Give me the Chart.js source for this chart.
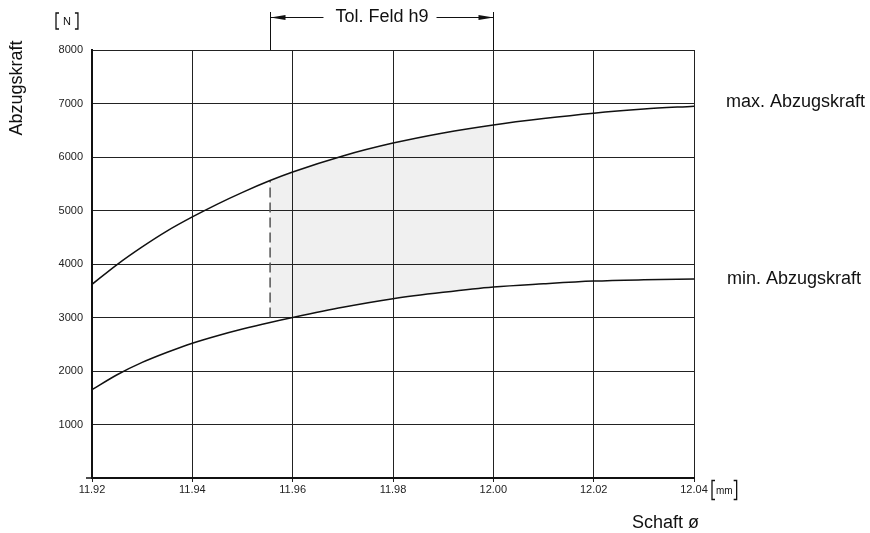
<!DOCTYPE html>
<html><head><meta charset="utf-8">
<script src="https://cdn.jsdelivr.net/npm/chart.js@4/dist/chart.umd.min.js"></script>
<style>html,body{margin:0;padding:0;background:#fff}#wrap{width:870px;height:533px}</style>
</head><body><div id="wrap"><canvas id="c" width="870" height="533"></canvas></div>
<script>
const xTickValues = [11.92, 11.94, 11.96, 11.98, 12.00, 12.02, 12.04];
const xTickLabels = ['11.92','11.94','11.96','11.98','12.00','12.02','12.04'];
const yTickValues = [0,1000,2000,3000,4000,5000,6000,7000,8000];
const yTickLabels = ['','1000','2000','3000','4000','5000','6000','7000','8000'];
const shaft    = [11.92, 11.925, 11.93, 11.935, 11.94, 11.945, 11.95, 11.9555, 11.96, 11.97, 11.98, 11.99, 12.00, 12.01, 12.02, 12.03, 12.04];
const maxForce = [3620, 3990, 4320, 4620, 4880, 5120, 5340, 5560, 5720, 6020, 6260, 6450, 6600, 6720, 6820, 6895, 6950];
const minForce = [1650, 1930, 2160, 2350, 2520, 2660, 2785, 2908, 3000, 3190, 3350, 3470, 3570, 3630, 3680, 3705, 3720];
const tolLow = 11.9555, tolHigh = 12.00, tolFloor = 3000;
const labels = {y:'Abzugskraft', yUnit:'N', x:'Schaft ø', xUnit:'mm', max:'max. Abzugskraft', min:'min. Abzugskraft', tol:'Tol. Feld h9'};

const pts = (xs, ys) => xs.map((x,i)=>({x, y: ys[i]}));
const FONT = '"Liberation Sans", Arial, Helvetica, sans-serif';

function tracePath(ctx, line){
  if (typeof line.path === 'function') { line.path(ctx); return; }
  line.points.forEach((p,i)=> i ? ctx.lineTo(p.x,p.y) : ctx.moveTo(p.x,p.y));
}

const shade = {
  id:'shade',
  beforeDraw(chart){
    const ctx = chart.ctx, xs = chart.scales.x, ys = chart.scales.y, ca = chart.chartArea;
    const maxLine = chart.getDatasetMeta(0).dataset, minLine = chart.getDatasetMeta(1).dataset;
    if (!maxLine || !minLine) return;
    maxLine.updateControlPoints && maxLine.updateControlPoints(ca, 'x');
    minLine.updateControlPoints && minLine.updateControlPoints(ca, 'x');
    const xl = xs.getPixelForValue(tolLow), xr = xs.getPixelForValue(tolHigh), yf = ys.getPixelForValue(tolFloor);
    ctx.save();
    ctx.beginPath(); ctx.rect(xl, ca.top, xr-xl, yf-ca.top); ctx.clip();
    ctx.beginPath(); tracePath(ctx, maxLine); ctx.lineTo(ca.right, ca.bottom); ctx.lineTo(ca.left, ca.bottom); ctx.closePath(); ctx.clip();
    ctx.beginPath(); tracePath(ctx, minLine); ctx.lineTo(ca.right, ca.top); ctx.lineTo(ca.left, ca.top); ctx.closePath();
    ctx.fillStyle = '#f0f0f0'; ctx.fill();
    ctx.restore();
  }
};

const overlay = {
  id:'overlay',
  afterDraw(chart){
    const ctx = chart.ctx, xs = chart.scales.x, ys = chart.scales.y, ca = chart.chartArea;
    ctx.save();
    ctx.strokeStyle = '#111'; ctx.fillStyle = '#111'; ctx.lineWidth = 1.5;
    const y0 = ys.getPixelForValue(0);
    ctx.beginPath(); ctx.moveTo(ca.left-6, y0); ctx.lineTo(ca.left, y0); ctx.stroke();
    // tolerance bracket
    ctx.lineWidth = 1;
    const xl = Math.round(xs.getPixelForValue(tolLow))+0.5, xr = Math.round(xs.getPixelForValue(tolHigh))+0.5;
    const yb = 17.5;
    ctx.beginPath(); ctx.moveTo(xl, 12); ctx.lineTo(xl, ca.top); ctx.moveTo(xr, 12); ctx.lineTo(xr, ca.top); ctx.stroke();
    ctx.font = '18px ' + FONT; ctx.textAlign = 'center'; ctx.textBaseline = 'middle';
    const cx = (xl+xr)/2, tw = ctx.measureText(labels.tol).width;
    ctx.fillText(labels.tol, cx, yb);
    ctx.beginPath(); ctx.moveTo(xl, yb); ctx.lineTo(cx - tw/2 - 12, yb); ctx.moveTo(cx + tw/2 + 8, yb); ctx.lineTo(xr, yb); ctx.stroke();
    ctx.beginPath(); ctx.moveTo(xl, yb); ctx.lineTo(xl+15, yb-2.5); ctx.lineTo(xl+15, yb+2.5); ctx.closePath(); ctx.fill();
    ctx.beginPath(); ctx.moveTo(xr, yb); ctx.lineTo(xr-15, yb-2.5); ctx.lineTo(xr-15, yb+2.5); ctx.closePath(); ctx.fill();
    // y axis title
    ctx.save(); ctx.translate(17, 88); ctx.rotate(-Math.PI/2); ctx.font = '18px ' + FONT; ctx.textAlign='center'; ctx.textBaseline='middle';
    ctx.fillText(labels.y, 0, 0); ctx.restore();
    // unit brackets
    function unit(text, x, y, h, gap, size){
      ctx.font = size + 'px ' + FONT; ctx.textAlign='left'; ctx.textBaseline='middle';
      const w = ctx.measureText(text).width;
      ctx.lineWidth = 1.3;
      ctx.beginPath();
      ctx.moveTo(x+4, y-h); ctx.lineTo(x+1, y-h); ctx.lineTo(x+1, y+h); ctx.lineTo(x+4, y+h);
      const r = x + 1 + gap + w + gap;
      ctx.moveTo(r-3, y-h); ctx.lineTo(r, y-h); ctx.lineTo(r, y+h); ctx.lineTo(r-3, y+h);
      ctx.stroke();
      ctx.fillText(text, x + 1 + gap, y+1);
    }
    unit(labels.yUnit, 55, 21, 8, 7, 11);
    unit(labels.xUnit, 711, 490, 9.5, 4, 10);
    // curve labels
    ctx.font = '18px ' + FONT; ctx.textAlign='left'; ctx.textBaseline='middle';
    ctx.fillText(labels.max, 726, 102);
    ctx.fillText(labels.min, 727, 279);
    ctx.fillText(labels.x, 632, 523);
    ctx.restore();
  }
};

new Chart(document.getElementById('c'), {
  type:'line',
  data:{ datasets:[
    {data: pts(shaft, maxForce), borderColor:'#111', borderWidth:1.5, pointRadius:0, cubicInterpolationMode:'monotone', fill:false},
    {data: pts(shaft, minForce), borderColor:'#111', borderWidth:1.5, pointRadius:0, cubicInterpolationMode:'monotone', fill:false},
    {data: [{x: tolLow, y: tolFloor}, {x: tolLow, y: maxForce[shaft.indexOf(tolLow)]}], borderColor:'#555', borderWidth:1.5, borderDash:[10,5], pointRadius:0, fill:false}
  ]},
  options:{
    responsive:false, animation:false,
    layout:{padding:{top:50, right:176, left:0, bottom:0}},
    plugins:{legend:{display:false}, tooltip:{enabled:false}},
    scales:{
      x:{type:'linear', min:11.92, max:12.04,
        afterBuildTicks(s){ s.ticks = xTickValues.map(v=>({value:v})); },
        afterFit(s){ s.height = 55; },
        grid:{color:'#222', lineWidth:1, drawTicks:true, tickLength:4, tickColor:'#222'},
        border:{display:true, color:'#111', width:2},
        ticks:{color:'#222', font:{size:11, family:FONT}, padding:1, maxRotation:0,
          callback:(v)=>{ const i = xTickValues.findIndex(t=>Math.abs(t-v)<1e-6); return i>=0 ? xTickLabels[i] : ''; }}
      },
      y:{min:0, max:8000,
        afterBuildTicks(s){ s.ticks = yTickValues.map(v=>({value:v})); },
        afterFit(s){ s.width = 92; },
        grid:{color:'#222', lineWidth:1, drawTicks:false},
        border:{display:true, color:'#111', width:2},
        ticks:{color:'#222', font:{size:11, family:FONT}, padding:9,
          callback:(v)=>{ const i = yTickValues.indexOf(v); return i>=0 ? yTickLabels[i] : ''; }}
      }
    }
  },
  plugins:[shade, overlay]
});
</script></body></html>
